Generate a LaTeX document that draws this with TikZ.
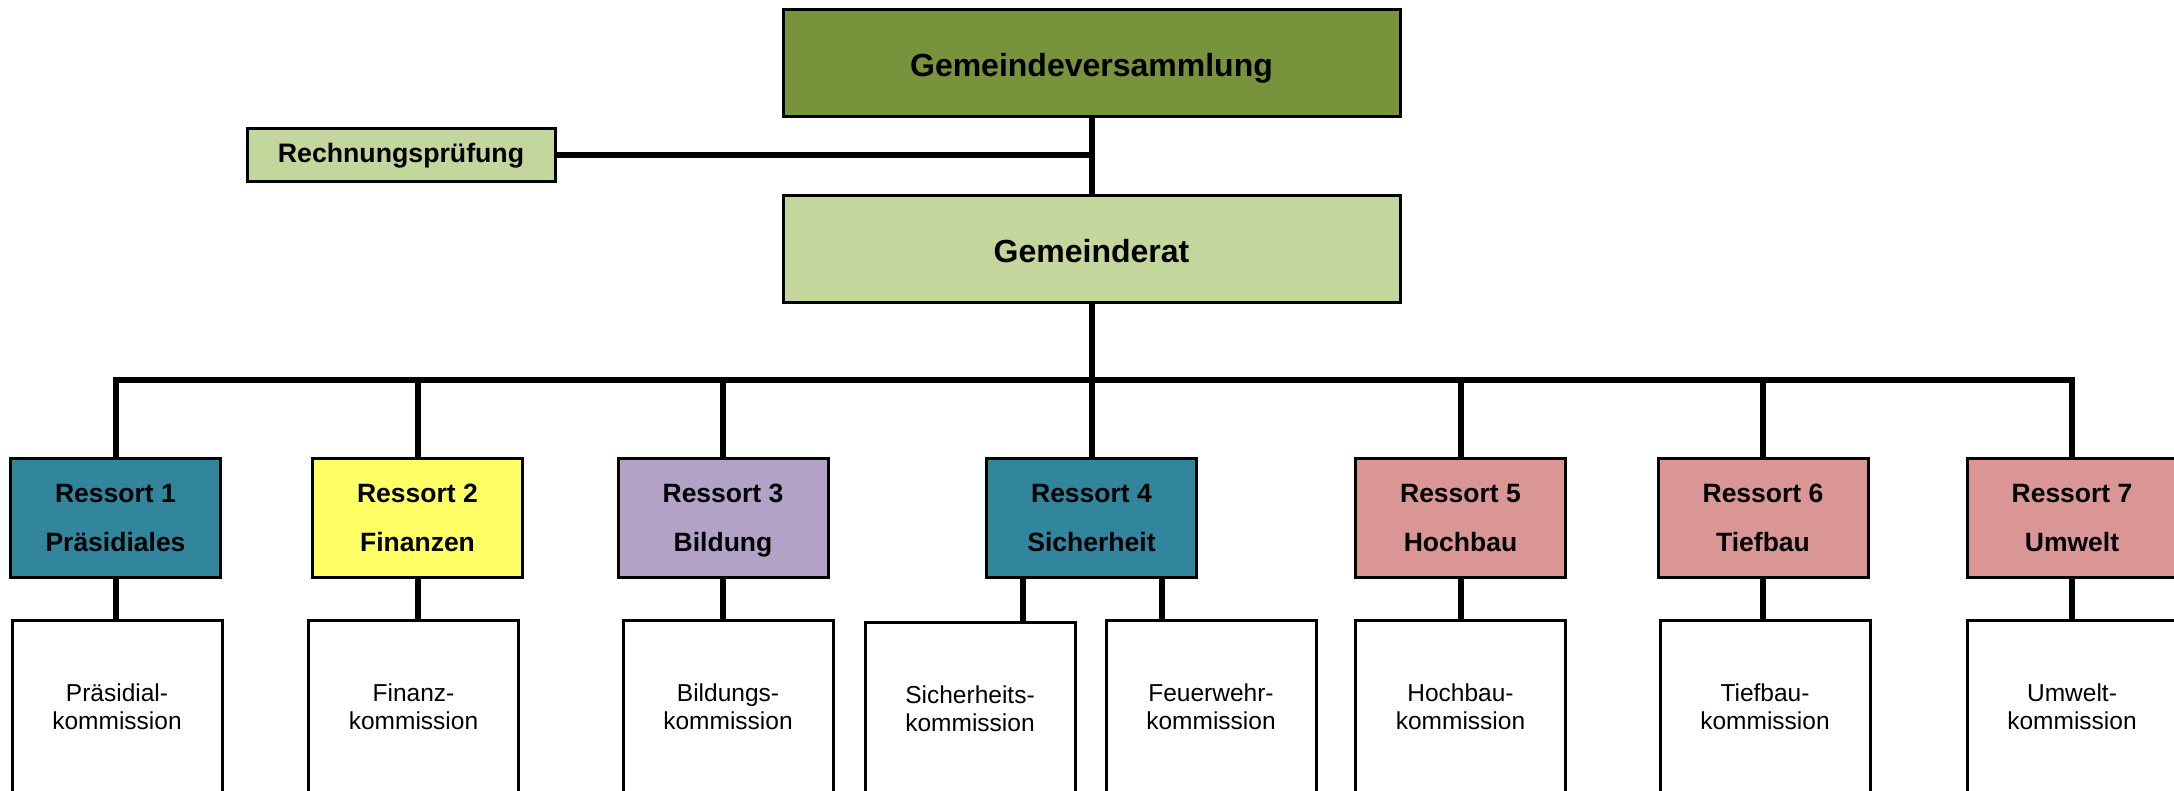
\documentclass[tikz,border=0pt]{standalone}
\usepackage{fontspec}
\setmainfont{Liberation Sans}
\definecolor{gvgreen}{HTML}{77933C}
\definecolor{grgreen}{HTML}{C3D69B}
\definecolor{teal1}{HTML}{31859C}
\definecolor{yel}{HTML}{FFFF66}
\definecolor{purp}{HTML}{B3A2C7}
\definecolor{pink1}{HTML}{D99694}
\tikzset{
  box/.style={draw=black, line width=3pt, inner sep=0pt, align=center},
  topbox/.style={box, minimum width=617pt, minimum height=107pt, text height=27pt, text depth=0pt, font=\fontsize{32}{38}\selectfont\bfseries},
  rbox/.style={box, minimum width=210pt, minimum height=119pt, text depth=0pt, font=\fontsize{26.5}{49}\selectfont\bfseries},
  kbox/.style={box, fill=white, minimum width=210pt, minimum height=174pt, font=\fontsize{24.5}{28}\selectfont},
  conn/.style={line width=6pt},
}
\begin{document}
\begin{tikzpicture}[x=1pt,y=-1pt]
\useasboundingbox (0,0) rectangle (2174,791);
\clip (0,0) rectangle (2174,791);
% top level
\node[topbox, fill=gvgreen] (GV) at (1091.5,63.5) {Gemeindeversammlung};
\node[topbox, fill=grgreen] (GR) at (1091.5,249.5) {Gemeinderat};
\node[box, fill=grgreen, minimum width=308pt, minimum height=53pt, font=\fontsize{26.7}{30}\selectfont\bfseries] (RP) at (401,155.5) {Rechnungsprüfung};
\coordinate (bar) at (1091.5,380);
% ressorts
\node[rbox, fill=teal1] (R1) at (115.5,517.5) {Ressort 1\\Präsidiales};
\node[rbox, fill=yel]   (R2) at (417.5,517.5) {Ressort 2\\Finanzen};
\node[rbox, fill=purp]  (R3) at (723,517.5) {Ressort 3\\Bildung};
\node[rbox, fill=teal1] (R4) at (1091.5,517.5) {Ressort 4\\Sicherheit};
\node[rbox, fill=pink1] (R5) at (1460.5,517.5) {Ressort 5\\Hochbau};
\node[rbox, fill=pink1] (R6) at (1763,517.5) {Ressort 6\\Tiefbau};
\node[rbox, fill=pink1] (R7) at (2072,517.5) {Ressort 7\\Umwelt};
% commissions
\node[kbox] (K1) at (117,707) {Präsidial-\\kommission};
\node[kbox] (K2) at (413.5,707) {Finanz-\\kommission};
\node[kbox] (K3) at (728,707) {Bildungs-\\kommission};
\node[kbox] (K4a) at (970,709) {Sicherheits-\\kommission};
\node[kbox] (K4b) at (1211,707) {Feuerwehr-\\kommission};
\node[kbox] (K5) at (1460.5,707) {Hochbau-\\kommission};
\node[kbox] (K6) at (1765,707) {Tiefbau-\\kommission};
\node[kbox] (K7) at (2072,707) {Umwelt-\\kommission};
% connectors
\draw[conn] (GV.south) -- (GR.north);
\draw[conn] (RP.east) -- (RP.east -| GV.south);
\draw[conn] (GR.south) -- (bar);
\draw[conn, line cap=rect] (R1.north |- bar) -- (R7.north |- bar);
\foreach \r in {R1,R2,R3,R4,R5,R6,R7} {
  \draw[conn] (\r.north) -- (\r.north |- bar);
}
\draw[conn] (R1.south) -- (R1.south |- K1.north);
\draw[conn] (R2.south) -- (R2.south |- K2.north);
\draw[conn] (R3.south) -- (R3.south |- K3.north);
\draw[conn] ([xshift=-69pt]R4.south) -- ([xshift=52.5pt]K4a.north);
\draw[conn] ([xshift=70.5pt]R4.south) -- ([xshift=-49pt]K4b.north);
\draw[conn] (R5.south) -- (K5.north);
\draw[conn] (R6.south) -- (R6.south |- K6.north);
\draw[conn] (R7.south) -- (K7.north);
\end{tikzpicture}
\end{document}
